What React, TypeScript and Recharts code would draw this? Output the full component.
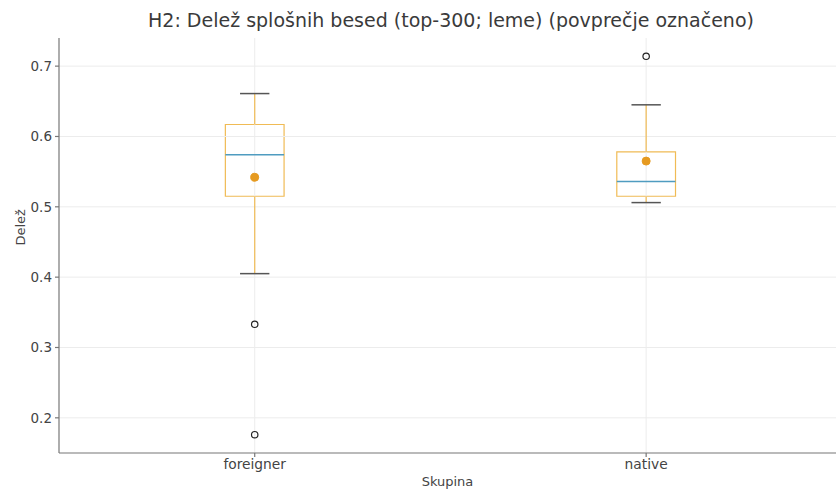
import React from 'react';
import {
  ComposedChart, XAxis, YAxis, ReferenceArea, ReferenceLine, Scatter,
} from 'recharts';

const categories = ['foreigner', 'native'];
const positions = [1, 2];
const q1 = [0.515, 0.515];
const medians = [0.574, 0.536];
const q3 = [0.617, 0.578];
const whiskerLow = [0.405, 0.506];
const whiskerHigh = [0.661, 0.645];
const means = [0.542, 0.565];
const outliersForeigner = [0.333, 0.176];
const outliersNative = [0.714];
const yTicks = [0.2, 0.3, 0.4, 0.5, 0.6, 0.7];

const BOX_HALF = 0.075;
const CAP_HALF = 0.0375;
const BOX_COLOR = '#f0bb55';
const MEDIAN_COLOR = '#4f9cc0';
const CAP_COLOR = '#555555';
const MEAN_COLOR = '#e69a20';
const GRID_COLOR = '#ececec';
const FONT = 'DejaVu Sans, sans-serif';

const meanData = positions.map((p, i) => ({ x: p, y: means[i] }));
const outlierData = [
  ...outliersForeigner.map((v) => ({ x: positions[0], y: v })),
  ...outliersNative.map((v) => ({ x: positions[1], y: v })),
];

const MeanDot = (props: any) => (
  <circle cx={props.cx} cy={props.cy} r={4} fill={MEAN_COLOR} stroke={MEAN_COLOR} />
);
const OutlierDot = (props: any) => (
  <circle cx={props.cx} cy={props.cy} r={3.2} fill="none" stroke="#222" strokeWidth={1.2} />
);

export default function App() {
  return (
    <div style={{ position: 'absolute', left: 0, top: 0, width: 839, height: 489, background: '#fff', fontFamily: FONT }}>
      <div style={{ position: 'absolute', left: 59, width: 784, top: 8, lineHeight: '24px', textAlign: 'center', fontSize: 19, color: '#3a3a3a', fontFamily: FONT, whiteSpace: 'nowrap' }}>
        H2: Delež splošnih besed (top-300; leme) (povprečje označeno)
      </div>
      <ComposedChart width={839} height={489} margin={{ top: 38, right: 3, bottom: 0, left: 0 }}>
        <XAxis
          type="number"
          dataKey="x"
          domain={[0.5, 2.485]}
          ticks={positions}
          allowDataOverflow
          tickFormatter={(v: number) => categories[Math.round(v) - 1]}
          height={36}
          tickSize={4}
          tickMargin={2}
          stroke="#777"
          strokeWidth={1.2}
          tick={{ fill: '#444', fontSize: 13.8, fontFamily: FONT }}
          label={{ value: 'Skupina', position: 'insideBottom', offset: 3, fill: '#444', fontSize: 13, fontFamily: FONT }}
        />
        <YAxis
          type="number"
          dataKey="y"
          domain={[0.15, 0.74]}
          ticks={yTicks}
          allowDataOverflow
          tickFormatter={(v: number) => v.toFixed(1)}
          width={59}
          tickSize={4}
          tickMargin={3}
          stroke="#777"
          strokeWidth={1.2}
          tick={{ fill: '#444', fontSize: 13.5, fontFamily: FONT }}
          label={{ value: 'Delež', angle: -90, position: 'insideLeft', offset: 20, fill: '#444', fontSize: 13, fontFamily: FONT }}
        />
        {yTicks.map((t) => (
          <ReferenceLine key={'hg' + t} y={t} stroke={GRID_COLOR} strokeWidth={1} />
        ))}
        {positions.map((p) => (
          <ReferenceLine key={'vg' + p} x={p} stroke={GRID_COLOR} strokeWidth={1} />
        ))}
        {positions.map((p, i) => (
          <ReferenceArea
            key={'box' + i}
            x1={p - BOX_HALF}
            x2={p + BOX_HALF}
            y1={q1[i]}
            y2={q3[i]}
            fill="#ffffff"
            fillOpacity={0}
            stroke={BOX_COLOR}
            strokeWidth={1.2}
            strokeOpacity={1}
          />
        ))}
        {positions.map((p, i) => (
          <ReferenceLine key={'wu' + i} segment={[{ x: p, y: q3[i] }, { x: p, y: whiskerHigh[i] }]} stroke={BOX_COLOR} strokeWidth={1.2} />
        ))}
        {positions.map((p, i) => (
          <ReferenceLine key={'wl' + i} segment={[{ x: p, y: q1[i] }, { x: p, y: whiskerLow[i] }]} stroke={BOX_COLOR} strokeWidth={1.2} />
        ))}
        {positions.map((p, i) => (
          <ReferenceLine key={'cu' + i} segment={[{ x: p - CAP_HALF, y: whiskerHigh[i] }, { x: p + CAP_HALF, y: whiskerHigh[i] }]} stroke={CAP_COLOR} strokeWidth={1.5} />
        ))}
        {positions.map((p, i) => (
          <ReferenceLine key={'cl' + i} segment={[{ x: p - CAP_HALF, y: whiskerLow[i] }, { x: p + CAP_HALF, y: whiskerLow[i] }]} stroke={CAP_COLOR} strokeWidth={1.5} />
        ))}
        {positions.map((p, i) => (
          <ReferenceLine key={'md' + i} segment={[{ x: p - BOX_HALF, y: medians[i] }, { x: p + BOX_HALF, y: medians[i] }]} stroke={MEDIAN_COLOR} strokeWidth={1.4} />
        ))}
        <Scatter data={outlierData} dataKey="y" shape={OutlierDot} isAnimationActive={false} />
        <Scatter data={meanData} dataKey="y" shape={MeanDot} isAnimationActive={false} />
      </ComposedChart>
    </div>
  );
}
